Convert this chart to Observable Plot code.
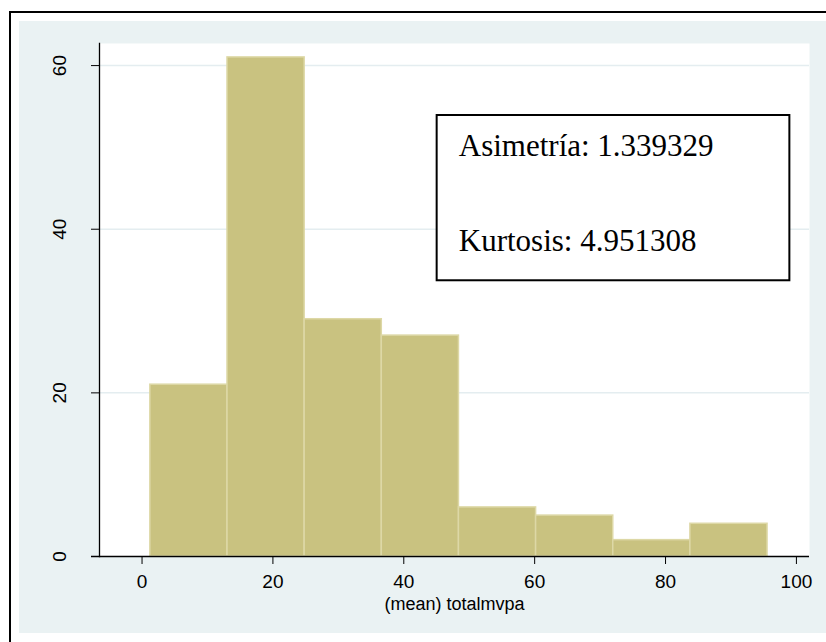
<!DOCTYPE html>
<html>
<head>
<meta charset="utf-8">
<script src="https://cdn.jsdelivr.net/npm/d3@7"></script>
<script src="https://cdn.jsdelivr.net/npm/@observablehq/plot@0.6"></script>
<style>
  html, body { margin: 0; padding: 0; background: white; }
  #wrap { position: relative; width: 826px; height: 642px; overflow: hidden; background: white; }
  #border { position: absolute; left: 9px; top: 11px; width: 900px; height: 660px; border: 2px solid black; box-sizing: border-box; }
  #bg { position: absolute; left: 19px; top: 21px; width: 900px; height: 612px; background: #EAF2F3; }
  #chart { position: absolute; left: 0; top: 0; }
</style>
</head>
<body>
<div id="wrap"><div id="border"></div><div id="bg"></div><div id="chart"></div></div>
<script>
// Histogram bins (mean totalmvpa) and frequencies
const binStart = [1.27, 13.06, 24.85, 36.64, 48.43, 60.22, 72.01, 83.80];
const binEnd   = [13.06, 24.85, 36.64, 48.43, 60.22, 72.01, 83.80, 95.59];
const counts   = [21, 61, 29, 27, 6, 5, 2, 4];

const xTicks = [0, 20, 40, 60, 80, 100];
const yTicks = [0, 20, 40, 60];
const xLabel = "(mean) totalmvpa";

// Annotation box with statistics (data coordinates)
const statLabels = ["Asimetría: 1.339329", "Kurtosis: 4.951308"];
const statY = [49.0, 37.4];
const statX = 48.4;
const boxX = [45.1, 99.0];
const boxY = [33.7, 53.9];

const bins = binStart.map((s, i) => ({x1: s, x2: binEnd[i], count: counts[i]}));
const stats = statLabels.map((t, i) => ({text: t, x: statX, y: statY[i]}));
const box = [{x1: boxX[0], x2: boxX[1], y1: boxY[0], y2: boxY[1]}];

const chart = Plot.plot({
  width: 826,
  height: 642,
  marginLeft: 99,
  marginRight: 17,
  marginTop: 43,
  marginBottom: 86,
  x: {domain: [-6.5, 102]},
  y: {domain: [0, 62.7]},
  style: {background: "transparent", fontFamily: "'Liberation Sans', Arial, sans-serif", fontSize: "19px", color: "black"},
  marks: [
    Plot.frame({fill: "white", stroke: null}),
    Plot.gridY(yTicks.filter(d => d > 0), {stroke: "#E4EDF0", strokeOpacity: 1, strokeWidth: 1.5}),
    Plot.rectY(bins, {x1: "x1", x2: "x2", y: "count", fill: "#C9C280", stroke: "#DDD8A6", strokeWidth: 1.5}),
    Plot.rect(box, {x1: "x1", x2: "x2", y1: "y1", y2: "y2", fill: "white", stroke: "black", strokeWidth: 2}),
    Plot.text(stats, {x: "x", y: "y", text: "text", textAnchor: "start", lineAnchor: "bottom",
      fontFamily: "'Liberation Serif', 'Times New Roman', serif", fontSize: 31, fill: "black"}),
    Plot.axisX(xTicks, {tickSize: 8, tickPadding: 10, label: null, fontSize: 19, stroke: "black", fill: "black"}),
    Plot.axisY(yTicks, {tickSize: 8, tickRotate: -90, tickPadding: 26, label: null, fontSize: 19, stroke: "black", fill: "black"}),
    Plot.frame({anchor: "left", stroke: "black", strokeWidth: 1.3}),
    Plot.ruleY([0], {stroke: "black", strokeWidth: 1.3, insetLeft: -8}),
    Plot.text([xLabel], {frameAnchor: "bottom", dy: 53, lineAnchor: "bottom", fontSize: 18, fill: "black"})
  ]
});
document.getElementById("chart").appendChild(chart);
</script>
</body>
</html>
